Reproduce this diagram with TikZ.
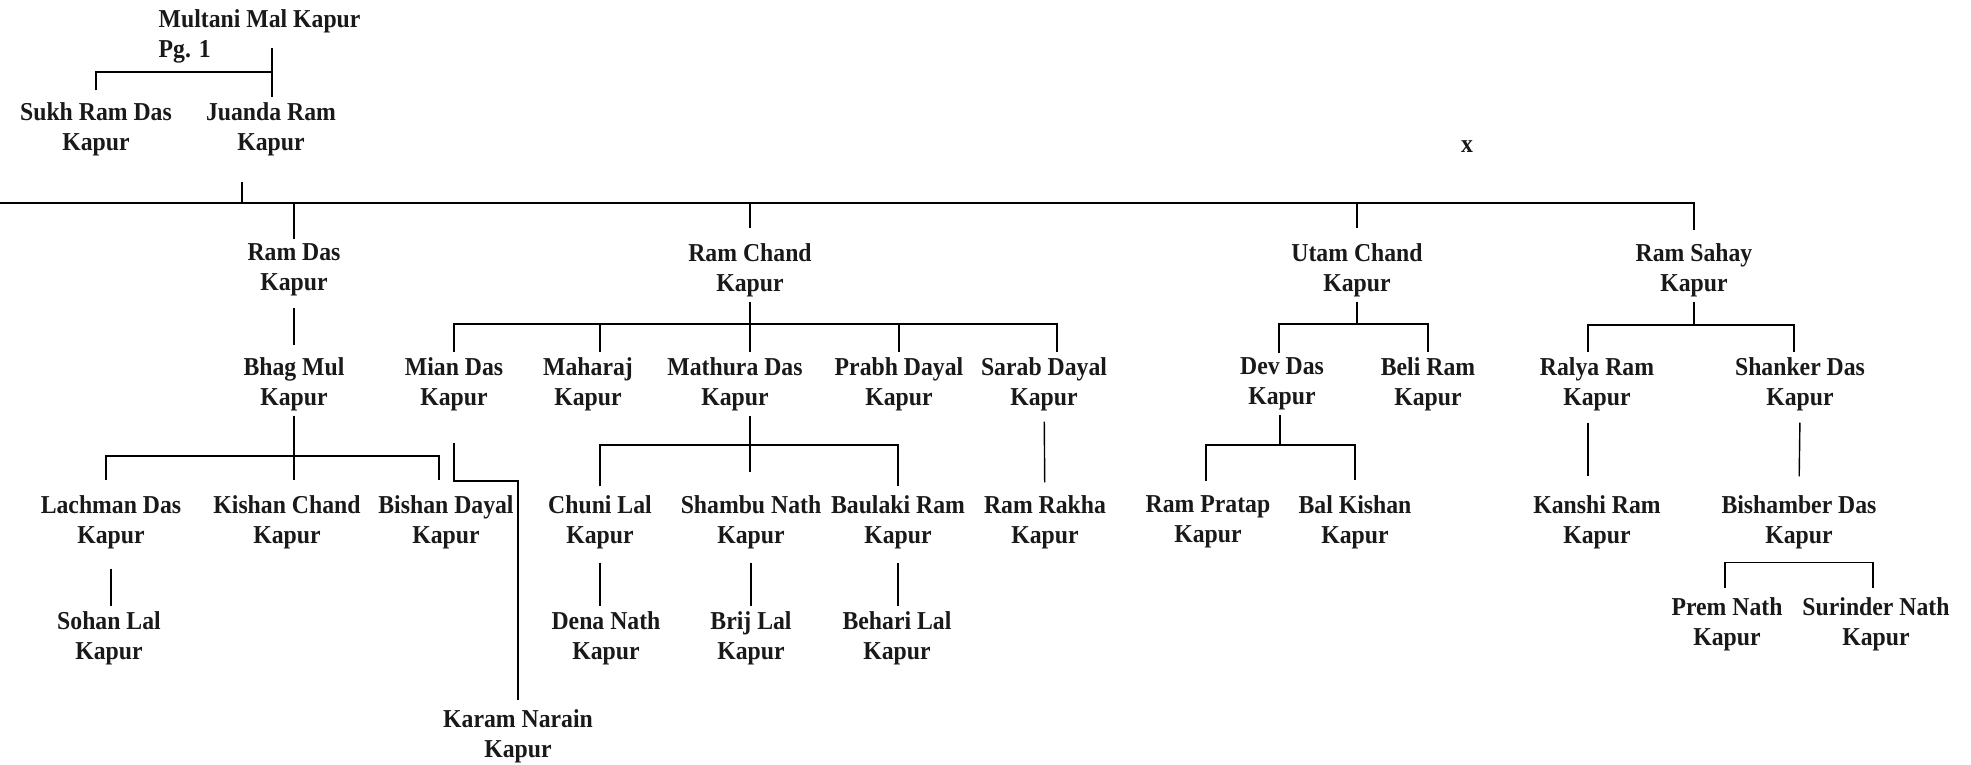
\documentclass[tikz,border=0pt]{standalone}
\usepackage{fontspec}
\setmainfont[FakeStretch=0.92]{Liberation Serif}

\newcommand\namefont{\fontsize{7.34pt}{8.54pt}\selectfont\bfseries}

\begin{document}
\begin{tikzpicture}[x=1cm, y=-1cm, line width=0.4pt]

\tikzset{person/.style = {align=center, inner sep=0pt, outer ysep=0.5mm, font=\namefont, text=black!90}}

\useasboundingbox (0,0) rectangle (19.71,7.65);

\node[person, align=left, anchor=west] (mmk) at (1.58,0.36) {Multani Mal Kapur\\Pg. 1};
\node[person] (sukh)   at (0.96,1.29) {Sukh Ram Das\\Kapur};
\node[person] (juanda) at (2.71,1.29) {Juanda Ram\\Kapur};
\node[person] (xmark)  at (14.67,1.465) {x};

\node[person] (ramdas)   at (2.94,2.70)  {Ram Das\\Kapur};
\node[person] (ramchand) at (7.50,2.70)  {Ram Chand\\Kapur};
\node[person] (utam)     at (13.57,2.70) {Utam Chand\\Kapur};
\node[person] (ramsahay) at (16.94,2.70) {Ram Sahay\\Kapur};

\node[person] (bhagmul) at (2.94,3.84)  {Bhag Mul\\Kapur};
\node[person] (miandas) at (4.54,3.84)  {Mian Das\\Kapur};
\node[person] (maharaj) at (5.88,3.84)  {Maharaj\\Kapur};
\node[person] (mathura) at (7.35,3.84)  {Mathura Das\\Kapur};
\node[person] (prabh)   at (8.99,3.84)  {Prabh Dayal\\Kapur};
\node[person] (sarab)   at (10.44,3.84) {Sarab Dayal\\Kapur};
\node[person] (devdas)  at (12.82,3.84) {Dev Das\\Kapur};
\node[person] (beli)    at (14.28,3.84) {Beli Ram\\Kapur};
\node[person] (ralya)   at (15.97,3.84) {Ralya Ram\\Kapur};
\node[person] (shanker) at (18.00,3.84) {Shanker Das\\Kapur};

\node[person] (lachman)   at (1.11,5.22)  {Lachman Das\\Kapur};
\node[person] (kishan)    at (2.87,5.22)  {Kishan Chand\\Kapur};
\node[person] (bishan)    at (4.46,5.22)  {Bishan Dayal\\Kapur};
\node[person] (chuni)     at (6.00,5.22)  {Chuni Lal\\Kapur};
\node[person] (shambu)    at (7.51,5.22)  {Shambu Nath\\Kapur};
\node[person] (baulaki)   at (8.98,5.22)  {Baulaki Ram\\Kapur};
\node[person] (ramrakha)  at (10.45,5.22) {Ram Rakha\\Kapur};
\node[person] (rampratap) at (12.08,5.22) {Ram Pratap\\Kapur};
\node[person] (balkishan) at (13.55,5.22) {Bal Kishan\\Kapur};
\node[person] (kanshi)    at (15.97,5.22) {Kanshi Ram\\Kapur};
\node[person] (bishamber) at (17.99,5.22) {Bishamber Das\\Kapur};

\node[person] (sohan)    at (1.09,6.38)  {Sohan Lal\\Kapur};
\node[person] (dena)     at (6.06,6.38)  {Dena Nath\\Kapur};
\node[person] (brij)     at (7.51,6.38)  {Brij Lal\\Kapur};
\node[person] (behari)   at (8.97,6.38)  {Behari Lal\\Kapur};
\node[person] (prem)     at (17.27,6.24) {Prem Nath\\Kapur};
\node[person] (surinder) at (18.76,6.24) {Surinder Nath\\Kapur};
\node[person] (karam)    at (5.18,7.36)  {Karam Narain\\Kapur};

\coordinate (mmktop)   at (2.72,0.48);
\coordinate (mmkbus)   at (2.72,0.72);
\coordinate (mainW)    at (0,2.03);
\coordinate (mainbus)  at (2.42,2.03);
\coordinate (bhagbus)  at (2.94,4.56);
\coordinate (kink)     at (5.18,4.81);
\coordinate (rcbus)    at (7.50,3.24);
\coordinate (mdbus)    at (7.50,4.45);
\coordinate (ucbus)    at (13.57,3.24);
\coordinate (ddbus)    at (12.80,4.45);
\coordinate (rsbus)    at (16.94,3.25);

% Multani Mal
\draw (mmktop) -- (juanda.north -| mmktop);
\draw[shorten <=0.7mm] (sukh.north) |- (mmkbus);

% Juanda Ram and the long line
\draw[shorten <=2.1mm] (juanda.south -| mainbus) -- (mainbus);
\draw[shorten >=0.8mm] (mainW) -| (ramsahay.north);
\draw (ramdas.north |- mainW) -- (ramdas.north);
\draw[shorten >=1mm] (ramchand.north |- mainW) -- (ramchand.north);
\draw[shorten >=1mm] (utam.north |- mainW) -- (utam.north);

% Ram Das
\draw[shorten <=0.7mm, shorten >=0.7mm] (ramdas) -- (bhagmul);
\draw[shorten >=1mm] (bhagmul.south) -- (kishan.north -| bhagmul);
\draw[shorten <=1mm, shorten >=1mm] ([xshift=-0.5mm]lachman.north) |- (bhagbus) -| ([xshift=-0.7mm]bishan.north);
\draw[shorten <=1.5mm] (lachman.south) -- (lachman.south |- sohan.north);

% Mian Das
\draw[shorten <=2.7mm, shorten >=0.4mm] (miandas.south) |- (kink) -- (karam.north);

% Ram Chand
\draw (ramchand.south) -- (ramchand.south |- mathura.north);
\draw (miandas.north) |- (rcbus) -| ([xshift=1.3mm]sarab.north);
\draw ([xshift=1.2mm]maharaj.north) |- (rcbus);
\draw (prabh.north) |- (rcbus);

% Mathura Das
\draw[shorten >=1.8mm] (mathura.south -| ramchand) -- (shambu.north -| ramchand);
\draw[shorten <=0.4mm, shorten >=0.4mm] (chuni.north) |- (mdbus) -| (baulaki.north);
\draw[shorten <=0.9mm] (chuni.south) -- (dena.north -| chuni.south);
\draw[shorten <=0.9mm] (shambu.south) -- (brij.north);
\draw[shorten <=0.9mm] (baulaki.south) -- (behari.north -| baulaki.south);

% Sarab Dayal
\draw[shorten <=0.6mm, shorten >=0.8mm] (sarab) -- (ramrakha);

% Utam Chand
\draw (utam.south) -- (ucbus);
\draw ([xshift=-0.3mm]devdas.north) |- (ucbus) -| (beli.north);
\draw (devdas.south -| ddbus) -- (ddbus);
\draw[shorten <=1mm, shorten >=1mm] ([xshift=-0.2mm]rampratap.north) |- (ddbus) -| (balkishan.north);

% Ram Sahay
\draw (ramsahay.south) -- (rsbus);
\draw ([xshift=-0.9mm]ralya.north) |- (rsbus) -| ([xshift=-0.6mm]shanker.north);
\draw[shorten <=0.7mm, shorten >=1.4mm] ([xshift=-0.9mm]ralya.south) -- ([xshift=-0.9mm]kanshi.north);
\draw[shorten <=0.7mm, shorten >=1.4mm] (shanker.south) -- (bishamber.north);
\draw[shorten <=0.4mm, shorten >=0.4mm] ([xshift=-0.2mm]prem.north) |- ([yshift=-0.9mm]bishamber.south) -| ([xshift=-0.3mm]surinder.north);

\end{tikzpicture}
\end{document}
